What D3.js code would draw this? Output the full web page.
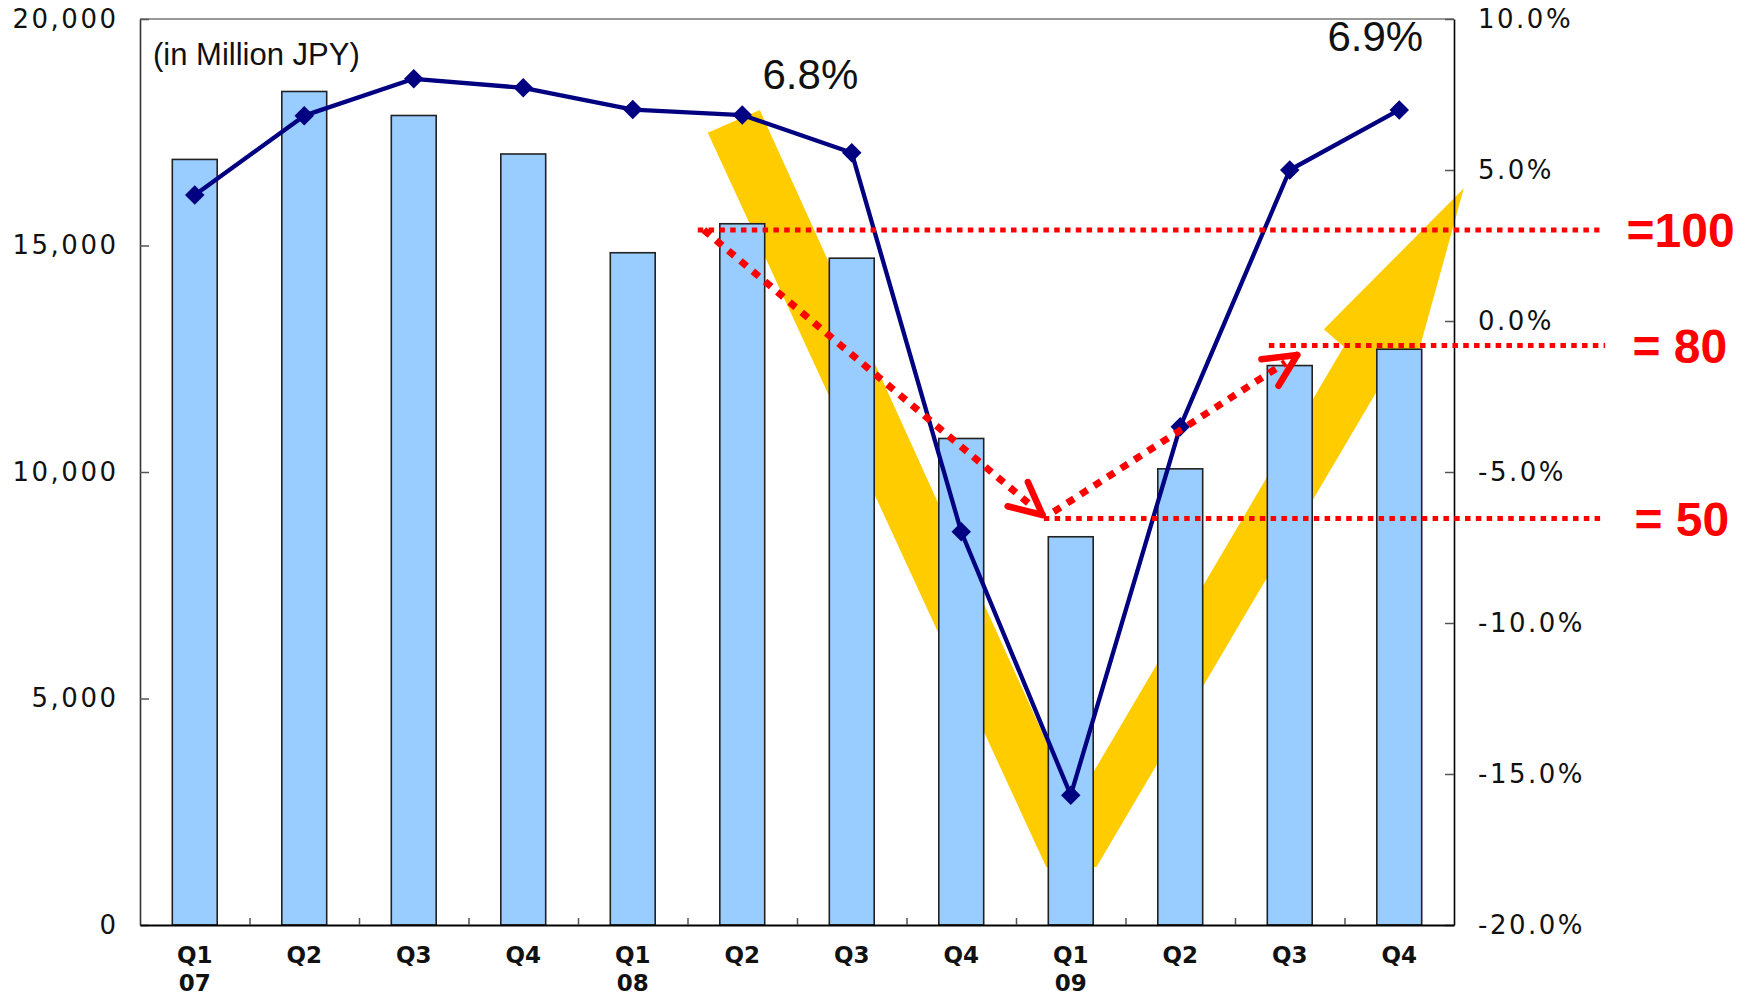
<!DOCTYPE html>
<html>
<head>
<meta charset="utf-8">
<script src="https://cdn.jsdelivr.net/npm/d3@7"></script>
<style>
  html, body { margin: 0; padding: 0; background: #fff; }
  svg { display: block; }
</style>
</head>
<body>
<svg id="chart" width="1749" height="997"></svg>
<script>
// ---------- DATA ----------
const quarters = ["Q1","Q2","Q3","Q4","Q1","Q2","Q3","Q4","Q1","Q2","Q3","Q4"];
const years    = ["07","","","","08","","","","09","","",""];
const sales    = [16900, 18400, 17870, 17020, 14840, 15480, 14720, 10740, 8570, 10070, 12350, 12710]; // million JPY
const margin   = [4.17, 6.8, 8.02, 7.72, 7.0, 6.82, 5.57, -6.98, -15.7, -3.5, 5.0, 6.99];       // %
const leftTicks  = [0, 5000, 10000, 15000, 20000];
const rightTicks = [-20, -15, -10, -5, 0, 5, 10];
const unitLabel = "(in Million JPY)";
const callouts = [ {text: "6.8%", i: 5.185, v: 18455}, {text: "6.9%", i: 10.344, v: 19294} ];

// annotation geometry in data units (category index, left-axis value)
const trendShape = [
  [4.685, 17490], [5.160, 17991], [8.036, 2673], [10.493, 12766], [10.311, 13150],
  [11.590, 16263], [11.176, 12649], [10.829, 11921], [8.235, 1280], [7.776, 1280]
];
const refLines = [
  {label: "=100", v: 15340, i0: 4.594, i1: 12.828, li: 13.075},
  {label: "= 80", v: 12790, i0: 9.809, i1: 12.880, li: 13.130},
  {label: "= 50", v: 8975,  i0: 7.754, i1: 12.880, li: 13.148}
];
const arrows = [
  {i0: 4.649, v0: 15342, i1: 7.742, v1: 9051},
  {i0: 7.845, v0: 9124,  i1: 10.068, v1: 12583}
];

// ---------- LAYOUT ----------
const m = {l: 140, r: 1454, t: 19, b: 925};
const svg = d3.select("#chart");

const x  = d3.scaleBand().domain(d3.range(quarters.length)).range([m.l, m.r])
             .paddingInner(0.59).paddingOuter(0.295);
const xi = d3.scaleLinear().domain([-0.5, quarters.length - 0.5]).range([m.l, m.r]);
const yL = d3.scaleLinear().domain([0, 20000]).range([m.b, m.t]);
const yR = d3.scaleLinear().domain([-20, 10]).range([m.b, m.t]);

const tickFont = "'DejaVu Sans', Verdana, sans-serif";
const arial = "'Liberation Sans', Arial, sans-serif";

// yellow trend arrow (behind bars)
svg.append("path")
  .attr("d", d3.line().x(d => xi(d[0])).y(d => yL(d[1]))(trendShape) + "Z")
  .attr("fill", "#FFCC00");

// bars
svg.append("g").selectAll("rect").data(sales).join("rect")
  .attr("x", (d, i) => x(i))
  .attr("y", d => yL(d))
  .attr("width", x.bandwidth())
  .attr("height", d => yL(0) - yL(d))
  .attr("fill", "#99CCFF")
  .attr("stroke", "#222")
  .attr("stroke-width", 1.6);

// top border
svg.append("line")
  .attr("x1", m.l).attr("x2", m.r).attr("y1", m.t).attr("y2", m.t)
  .attr("stroke", "#999").attr("stroke-width", 2);

// left axis
const gL = svg.append("g").attr("transform", `translate(${m.l},0)`)
  .call(d3.axisLeft(yL).tickValues(leftTicks).tickSize(-9).tickSizeOuter(0)
        .tickPadding(21.5).tickFormat(d3.format(",")));
gL.select(".domain").attr("stroke", "#333").attr("stroke-width", 1.6);
gL.selectAll(".tick line").attr("stroke", "#555").attr("stroke-width", 1.5);
gL.selectAll("text").attr("font-family", tickFont).attr("font-size", 26)
  .attr("letter-spacing", "2.5px").attr("fill", "#111");

// right axis
const gR = svg.append("g").attr("transform", `translate(${m.r},0)`)
  .call(d3.axisRight(yR).tickValues(rightTicks).tickSize(-9).tickSizeOuter(0)
        .tickPadding(24).tickFormat(d => d.toFixed(1) + "%"));
gR.select(".domain").attr("stroke", "#000").attr("stroke-width", 1.6);
gR.selectAll(".tick line").attr("stroke", "#555").attr("stroke-width", 1.5);
gR.selectAll("text").attr("font-family", tickFont).attr("font-size", 26)
  .attr("letter-spacing", "2.5px").attr("fill", "#111");

// bottom axis
const gB = svg.append("g").attr("transform", `translate(0,${m.b})`)
  .call(d3.axisBottom(xi).tickValues(d3.range(0.5, quarters.length - 1, 1))
        .tickSize(-7).tickSizeOuter(0).tickFormat(""));
gB.select(".domain").attr("stroke", "#000").attr("stroke-width", 2);
gB.selectAll(".tick line").attr("stroke", "#555").attr("stroke-width", 1.5);

// category labels
const labG = svg.append("g").attr("font-family", tickFont).attr("font-weight", "bold")
  .attr("font-size", 23).attr("fill", "#111").attr("text-anchor", "middle");
labG.selectAll("text.q").data(quarters).join("text").attr("class", "q")
  .attr("x", (d, i) => x(i) + x.bandwidth() / 2).attr("y", 963).text(d => d);
labG.selectAll("text.yr").data(years).join("text").attr("class", "yr")
  .attr("x", (d, i) => x(i) + x.bandwidth() / 2).attr("y", 991).text(d => d);

// margin line
const pts = margin.map((v, i) => [x(i) + x.bandwidth() / 2, yR(v)]);
svg.append("path").attr("d", d3.line()(pts))
  .attr("fill", "none").attr("stroke", "#000080").attr("stroke-width", 4.3)
  .attr("stroke-linejoin", "round");
svg.append("g").selectAll("path").data(pts).join("path")
  .attr("d", d3.symbol(d3.symbolSquare, 190)())
  .attr("transform", d => `translate(${d[0]},${d[1]}) rotate(45)`)
  .attr("fill", "#000080");

// red reference lines
const red = "#FF0000";
refLines.forEach(r => {
  svg.append("line")
    .attr("x1", xi(r.i0)).attr("x2", xi(r.i1)).attr("y1", yL(r.v)).attr("y2", yL(r.v))
    .attr("stroke", red).attr("stroke-width", 5).attr("stroke-dasharray", "5.5 5.3");
  svg.append("text")
    .attr("x", xi(r.li)).attr("y", yL(r.v)).attr("dy", "0.36em")
    .attr("font-family", arial).attr("font-weight", "bold").attr("font-size", 48)
    .attr("fill", red).text(r.label);
});

// red dotted arrows
arrows.forEach(a => {
  const x0 = xi(a.i0), y0 = yL(a.v0), x1 = xi(a.i1), y1 = yL(a.v1);
  const ang = Math.atan2(y1 - y0, x1 - x0);
  const len = Math.hypot(x1 - x0, y1 - y0);
  const xe = x0 + Math.cos(ang) * (len - 14), ye = y0 + Math.sin(ang) * (len - 14);
  svg.append("line").attr("x1", x0).attr("y1", y0).attr("x2", xe).attr("y2", ye)
    .attr("stroke", red).attr("stroke-width", 7).attr("stroke-dasharray", "8 8");
  const bl = 36, spread = 26 * Math.PI / 180;
  [-spread, spread].forEach(s => {
    const b = ang + Math.PI + s;
    svg.append("line").attr("x1", x1).attr("y1", y1)
      .attr("x2", x1 + Math.cos(b) * bl).attr("y2", y1 + Math.sin(b) * bl)
      .attr("stroke", red).attr("stroke-width", 6.5).attr("stroke-linecap", "round");
  });
});

// texts
svg.append("text").attr("x", 153).attr("y", 65)
  .attr("font-family", arial).attr("font-size", 31).attr("fill", "#111").text(unitLabel);
svg.append("g").selectAll("text").data(callouts).join("text")
  .attr("x", d => xi(d.i)).attr("y", d => yL(d.v))
  .attr("font-family", arial).attr("font-size", 42).attr("fill", "#111")
  .text(d => d.text);
</script>
</body>
</html>
